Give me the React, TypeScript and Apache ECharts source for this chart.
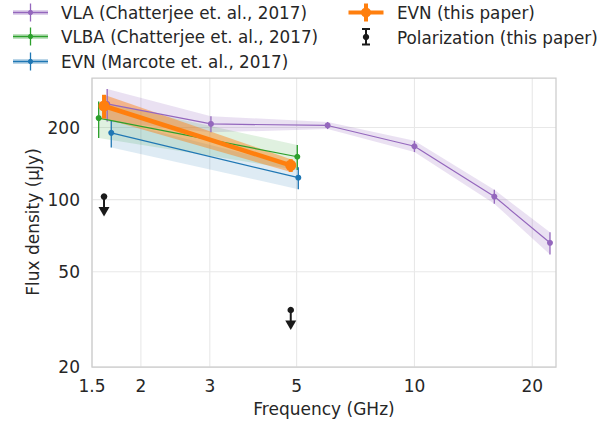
import React, { useEffect, useRef } from "react";
import * as echarts from "echarts";

// ---- data (GHz, µJy) ----
const vlaFreq = [1.64, 3.02, 6.0, 10.0, 16.0, 22.2];
const vlaFlux = [251, 207, 204, 167, 103, 66];
const vlaErr = [39, 16, 7, 9, 7, 7];

const vlbaFreq = [1.56, 5.02];
const vlbaFlux = [219, 151];
const vlbaErr = [38, 18];

const evnM17Freq = [1.68, 5.05];
const evnM17Flux = [190, 123.5];
const evnM17Err = [25, 13];

const evnFreq = [1.61, 4.83];
const evnFlux = [246, 139];
const evnErr = [28, 8.5];

const polFreq = [1.61, 4.83];
const polFlux = [103, 34.6];

const xTickValues = [1.5, 2, 3, 5, 10, 20];
const xTickLabels = ["1.5", "2", "3", "5", "10", "20"];
const yTickValues = [20, 50, 100, 200];
const yTickLabels = ["20", "50", "100", "200"];

const X_MIN = 1.5;
const X_MAX = 23;
const Y_MIN = 20;
const Y_MAX = 322;

const L = Math.log10;
const TEXT = "#262626";
const FONT = "DejaVu Sans";
const FS = 17;
const LEG_FS = 16.8;

const PURPLE = "#9467bd";
const GREEN = "#2ca02c";
const BLUE = "#1f77b4";
const ORANGE = "#ff7f0e";

function labelFor(values: number[], labels: string[]) {
  return (v: number) => {
    for (let i = 0; i < values.length; i++) {
      if (Math.abs(L(values[i]) - v) < 1e-6) return labels[i];
    }
    return "";
  };
}

function bandSeries(freq: number[], flux: number[], err: number[], fill: string, z: number) {
  return {
    type: "custom",
    z,
    silent: true,
    data: [[L(freq[0]), L(flux[0])]],
    renderItem: (_p: any, api: any) => {
      const upper = freq.map((f, i) => api.coord([L(f), L(flux[i] + err[i])]));
      const lower = freq.map((f, i) => api.coord([L(f), L(flux[i] - err[i])])).reverse();
      return {
        type: "polygon",
        shape: { points: upper.concat(lower) },
        style: { fill },
      };
    },
  };
}

function errSeries(freq: number[], flux: number[], err: number[], color: string, width: number, z: number) {
  return {
    type: "custom",
    z,
    silent: true,
    data: freq.map((f, i) => [L(f), L(flux[i] - err[i]), L(flux[i] + err[i])]),
    renderItem: (_p: any, api: any) => {
      const a = api.coord([api.value(0), api.value(1)]);
      const b = api.coord([api.value(0), api.value(2)]);
      return {
        type: "line",
        shape: { x1: a[0], y1: a[1], x2: b[0], y2: b[1] },
        style: { stroke: color, lineWidth: width },
      };
    },
  };
}

function lineSeries(name: string, freq: number[], flux: number[], color: string, width: number, size: number, z: number) {
  return {
    name,
    type: "line",
    z,
    silent: true,
    data: freq.map((f, i) => [L(f), L(flux[i])]),
    symbol: "circle",
    symbolSize: size,
    showSymbol: true,
    lineStyle: { color, width },
    itemStyle: { color },
  };
}

function legendGraphics() {
  const els: any[] = [];
  const text = (x: number, y: number, s: string) => ({
    type: "text",
    x,
    y,
    style: { text: s, fill: TEXT, font: `${LEG_FS}px "${FONT}"`, textVerticalAlign: "middle" },
  });
  const ebHandle = (cx: number, y: number, color: string, lw: number, r: number, half: number, band: boolean) => {
    const g: any[] = [];
    if (band) {
      g.push({ type: "rect", shape: { x: cx - 17.5, y: y - 2.5, width: 35, height: 5 }, style: { fill: color, opacity: 0.3 } });
    }
    g.push({ type: "line", shape: { x1: cx - 17.5, y1: y, x2: cx + 17.5, y2: y }, style: { stroke: color, lineWidth: lw } });
    g.push({ type: "line", shape: { x1: cx, y1: y - half, x2: cx, y2: y + half }, style: { stroke: color, lineWidth: lw } });
    g.push({ type: "circle", shape: { cx, cy: y, r }, style: { fill: color } });
    return g;
  };
  els.push(...ebHandle(30.5, 12.5, PURPLE, 1.3, 2.6, 9, true));
  els.push(text(61, 13, "VLA (Chatterjee et. al., 2017)"));
  els.push(...ebHandle(30.5, 36.5, GREEN, 1.3, 2.6, 9, true));
  els.push(text(61, 37, "VLBA (Chatterjee et. al., 2017)"));
  els.push(...ebHandle(30.5, 61.5, BLUE, 1.3, 2.6, 9, true));
  els.push(text(61, 62, "EVN (Marcote et. al., 2017)"));
  els.push(...ebHandle(366, 12.5, ORANGE, 4, 5, 9, false));
  els.push(text(397, 13, "EVN (this paper)"));
  // polarization handle
  els.push({ type: "line", shape: { x1: 366, y1: 28.5, x2: 366, y2: 45 }, style: { stroke: "#1a1a1a", lineWidth: 2 } });
  els.push({ type: "line", shape: { x1: 362, y1: 29, x2: 370, y2: 29 }, style: { stroke: "#1a1a1a", lineWidth: 2 } });
  els.push({ type: "line", shape: { x1: 362, y1: 44.5, x2: 370, y2: 44.5 }, style: { stroke: "#1a1a1a", lineWidth: 2 } });
  els.push({ type: "circle", shape: { cx: 366, cy: 37, r: 3.2 }, style: { fill: "#1a1a1a" } });
  els.push(text(397, 37.5, "Polarization (this paper)"));
  // y-axis title
  els.push({
    type: "text",
    x: 33,
    y: 222,
    rotation: Math.PI / 2,
    style: { text: "Flux density (μJy)", fill: TEXT, font: `${FS}px "${FONT}"`, textAlign: "center", textVerticalAlign: "middle" },
  });
  return els;
}

export default function App() {
  const ref = useRef<HTMLDivElement>(null);
  useEffect(() => {
    if (!ref.current) return;
    const chart = echarts.init(ref.current, undefined, { renderer: "svg" });
    const gridColor = "#e8e8e8";
    const option: any = {
      animation: false,
      backgroundColor: "#ffffff",
      textStyle: { fontFamily: FONT },
      grid: {
        left: 92,
        right: 55,
        top: 78,
        bottom: 55,
        show: true,
        borderColor: "#cccccc",
        borderWidth: 1.25,
        backgroundColor: "transparent",
        z: 10,
      },
      xAxis: {
        type: "value",
        min: L(X_MIN),
        max: L(X_MAX),
        name: "Frequency (GHz)",
        nameLocation: "middle",
        nameGap: 33,
        nameTextStyle: { color: TEXT, fontSize: FS, fontFamily: FONT },
        axisLine: { show: false },
        axisTick: { show: false, customValues: xTickValues.map(L) },
        splitLine: { show: false },
        axisLabel: {
          customValues: xTickValues.map(L),
          formatter: labelFor(xTickValues, xTickLabels),
          color: TEXT,
          fontSize: FS,
          fontFamily: FONT,
          margin: 10,
          showMinLabel: true,
          showMaxLabel: true,
        },
      },
      yAxis: {
        type: "value",
        min: L(Y_MIN),
        max: L(Y_MAX),
        axisLine: { show: false },
        axisTick: { show: false, customValues: yTickValues.map(L) },
        splitLine: { show: false },
        axisLabel: {
          customValues: yTickValues.map(L),
          formatter: labelFor(yTickValues, yTickLabels),
          color: TEXT,
          fontSize: FS,
          fontFamily: FONT,
          margin: 12,
          showMinLabel: true,
          showMaxLabel: true,
        },
      },
      graphic: legendGraphics(),
      series: [
        {
          type: "custom",
          z: 0,
          silent: true,
          data: xTickValues.map((v) => [L(v), L(Y_MIN)]),
          renderItem: (p: any, api: any) => {
            const cs = p.coordSys;
            const x = api.coord([api.value(0), api.value(1)])[0];
            return { type: "line", shape: { x1: x, y1: cs.y, x2: x, y2: cs.y + cs.height }, style: { stroke: gridColor, lineWidth: 1.1 } };
          },
        },
        {
          type: "custom",
          z: 0,
          silent: true,
          data: yTickValues.map((v) => [L(X_MIN), L(v)]),
          renderItem: (p: any, api: any) => {
            const cs = p.coordSys;
            const y = api.coord([api.value(0), api.value(1)])[1];
            return { type: "line", shape: { x1: cs.x, y1: y, x2: cs.x + cs.width, y2: y }, style: { stroke: gridColor, lineWidth: 1.1 } };
          },
        },
        bandSeries(vlaFreq, vlaFlux, vlaErr, "rgba(148,103,189,0.2)", 1),
        bandSeries(vlbaFreq, vlbaFlux, vlbaErr, "rgba(44,160,44,0.15)", 1),
        bandSeries(evnM17Freq, evnM17Flux, evnM17Err, "rgba(31,119,180,0.15)", 1),
        bandSeries(evnFreq, evnFlux, evnErr, "rgba(255,127,14,0.45)", 1),
        errSeries(vlaFreq, vlaFlux, vlaErr, PURPLE, 1.3, 3),
        lineSeries("VLA (Chatterjee et. al., 2017)", vlaFreq, vlaFlux, PURPLE, 1.2, 6, 3),
        errSeries(vlbaFreq, vlbaFlux, vlbaErr, GREEN, 1.3, 3),
        lineSeries("VLBA (Chatterjee et. al., 2017)", vlbaFreq, vlbaFlux, GREEN, 1.2, 6, 3),
        errSeries(evnM17Freq, evnM17Flux, evnM17Err, BLUE, 1.3, 3),
        lineSeries("EVN (Marcote et. al., 2017)", evnM17Freq, evnM17Flux, BLUE, 1.2, 6, 3),
        errSeries(evnFreq, evnFlux, evnErr, ORANGE, 4, 5),
        lineSeries("EVN (this paper)", evnFreq, evnFlux, ORANGE, 4.5, 11, 5),
        {
          type: "custom",
          z: 6,
          silent: true,
          data: polFreq.map((f, i) => [L(f), L(polFlux[i])]),
          renderItem: (_p: any, api: any) => {
            const c = api.coord([api.value(0), api.value(1)]);
            return {
              type: "group",
              children: [
                { type: "line", shape: { x1: c[0], y1: c[1], x2: c[0], y2: c[1] + 12 }, style: { stroke: "#1a1a1a", lineWidth: 2 } },
                { type: "polygon", shape: { points: [[c[0] - 5.5, c[1] + 10.5], [c[0] + 5.5, c[1] + 10.5], [c[0], c[1] + 20]] }, style: { fill: "#1a1a1a" } },
                { type: "circle", shape: { cx: c[0], cy: c[1], r: 3.3 }, style: { fill: "#1a1a1a" } },
              ],
            };
          },
        },
      ],
    };
    chart.setOption(option);
    return () => chart.dispose();
  }, []);
  return <div ref={ref} style={{ width: 611, height: 422, position: "absolute", left: 0, top: 0 }} />;
}
